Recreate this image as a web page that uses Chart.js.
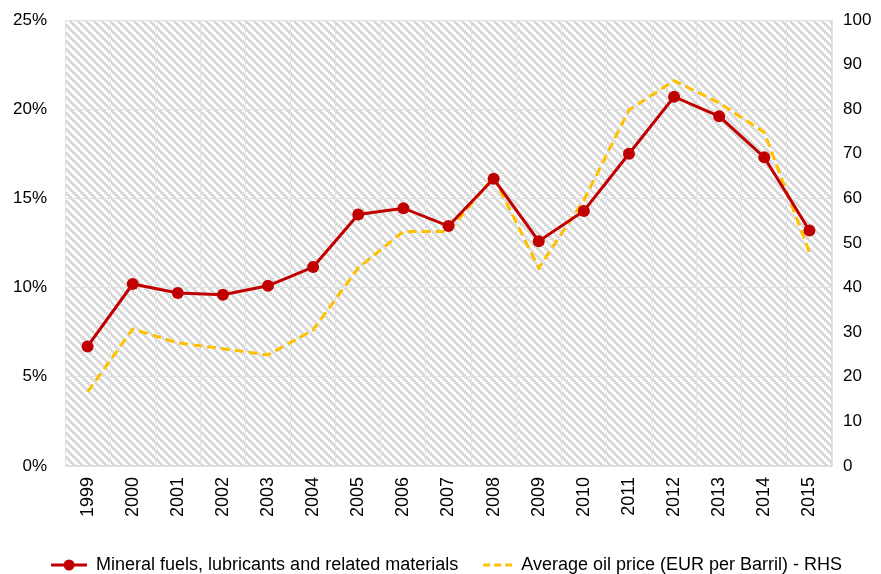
<!DOCTYPE html>
<html>
<head>
<meta charset="utf-8">
<script src="https://cdn.jsdelivr.net/npm/chart.js@4"></script>
<style>
  html, body { margin: 0; padding: 0; background: #fff; }
  #wrap { width: 881px; height: 574px; }
</style>
</head>
<body>
<div id="wrap"><canvas id="chart" width="881" height="574"></canvas></div>
<script>
const years = ["1999", "2000", "2001", "2002", "2003", "2004", "2005", "2006", "2007",
  "2008", "2009", "2010", "2011", "2012", "2013", "2014", "2015"];
// share of mineral fuels in imports, %
const mineralFuels = [6.7, 10.2, 9.7, 9.6, 10.1, 11.15, 14.1, 14.45, 13.45,
  16.1, 12.6, 14.3, 17.5, 20.7, 19.6, 17.3, 13.2];
// EUR per barrel (right axis)
const oilPrice = [16.6, 30.7, 27.6, 26.3, 24.9, 30.5, 44.4, 52.6, 52.6,
  64.8, 44.4, 59.6, 79.8, 86.4, 81.4, 74.8, 47.9];

const red = "#c00000";
const yellow = "#ffc000";
const fontFam = "'Liberation Sans', Arial, sans-serif";

// excel-like wide downward diagonal hatch, 2px stair steps
function makeHatch() {
  const c = document.createElement("canvas");
  c.width = 8; c.height = 8;
  const g = c.getContext("2d");
  g.fillStyle = "#ffffff";
  g.fillRect(0, 0, 8, 8);
  g.fillStyle = "#d9d9d9";
  for (let y = 0; y < 8; y++) {
    for (let x = 0; x < 8; x++) {
      const d = ((Math.floor(x / 2) - Math.floor(y / 2)) % 4 + 4) % 4;
      if (d < 2) g.fillRect(x, y, 1, 1);
    }
  }
  return c;
}

// icon canvas carries its own left gap so the legend padding can stay small
function legendIcon(withDot, dashed, color) {
  const c = document.createElement("canvas");
  c.width = 48; c.height = 14;
  const g = c.getContext("2d");
  g.strokeStyle = color;
  g.lineWidth = 3;
  if (dashed) g.setLineDash([7, 4]);
  g.beginPath();
  g.moveTo(dashed ? 19 : 12, 7);
  g.lineTo(48, 7);
  g.stroke();
  if (withDot) {
    g.fillStyle = color;
    g.beginPath();
    g.arc(30, 7, 5.5, 0, Math.PI * 2);
    g.fill();
  }
  return c;
}

const hatchBg = {
  id: "hatchBg",
  beforeDraw(chart) {
    const { ctx, chartArea: a } = chart;
    ctx.save();
    ctx.fillStyle = ctx.createPattern(makeHatch(), "repeat");
    ctx.fillRect(a.left, a.top, a.right - a.left, a.bottom - a.top);
    ctx.strokeStyle = "#d9d9d9";
    ctx.lineWidth = 1;
    ctx.strokeRect(a.left + 0.5, a.top + 0.5, a.right - a.left - 1, a.bottom - a.top - 1);
    ctx.restore();
  }
};

const icons = [legendIcon(true, false, red), legendIcon(false, true, yellow)];

// let the layout padding decide the plot top, not the tick label overflow
function noVPad(s) {
  s.paddingTop = 0;
  s.paddingBottom = 0;
}

const ctx = document.getElementById("chart").getContext("2d");
new Chart(ctx, {
  type: "line",
  data: {
    labels: years,
    datasets: [{
      label: "Mineral fuels, lubricants and related materials",
      data: mineralFuels,
      yAxisID: "y",
      borderColor: red,
      backgroundColor: red,
      borderWidth: 3,
      pointRadius: 6,
      pointHoverRadius: 6,
      pointBackgroundColor: red,
      pointBorderWidth: 0,
      tension: 0,
      order: 1
    }, {
      label: "Average oil price (EUR per Barril) - RHS",
      data: oilPrice,
      yAxisID: "y1",
      borderColor: yellow,
      backgroundColor: yellow,
      borderWidth: 3,
      borderDash: [9, 5],
      pointRadius: 0,
      tension: 0,
      order: 2
    }]
  },
  options: {
    responsive: false,
    animation: false,
    layout: { padding: { top: 20, left: 0, right: 0, bottom: -10 } },
    plugins: {
      tooltip: { enabled: false },
      legend: {
        position: "bottom",
        labels: {
          font: { family: fontFam, size: 18 },
          color: "#000",
          usePointStyle: true,
          pointStyleWidth: 48,
          padding: 6,
          generateLabels(chart) {
            return chart.data.datasets.map((ds, i) => ({
              text: ds.label,
              pointStyle: icons[i],
              fontColor: "#000",
              datasetIndex: i,
              hidden: false,
              lineWidth: 0
            }));
          }
        }
      }
    },
    scales: {
      x: {
        offset: true,
        grid: { offset: true, color: "#e2e2e2", drawTicks: false },
        border: { display: false },
        ticks: {
          font: { family: fontFam, size: 18 },
          color: "#000",
          minRotation: 90,
          maxRotation: 90,
          padding: 11,
          autoSkip: false
        },
        afterFit(s) { s.height = 84; }
      },
      y: {
        position: "left",
        min: 0,
        max: 25,
        grid: { color: "#e2e2e2", drawTicks: false },
        border: { display: false },
        ticks: {
          stepSize: 5,
          font: { family: fontFam, size: 17 },
          color: "#000",
          padding: 18,
          callback: v => v + "%"
        },
        afterFit(s) { s.width = 65; noVPad(s); }
      },
      y1: {
        position: "right",
        min: 0,
        max: 100,
        grid: { display: false, drawTicks: false },
        border: { display: false },
        ticks: {
          stepSize: 10,
          font: { family: fontFam, size: 17 },
          color: "#000",
          padding: 11
        },
        afterFit(s) { s.width = 49; noVPad(s); }
      }
    }
  },
  plugins: [hatchBg]
});
</script>
</body>
</html>
